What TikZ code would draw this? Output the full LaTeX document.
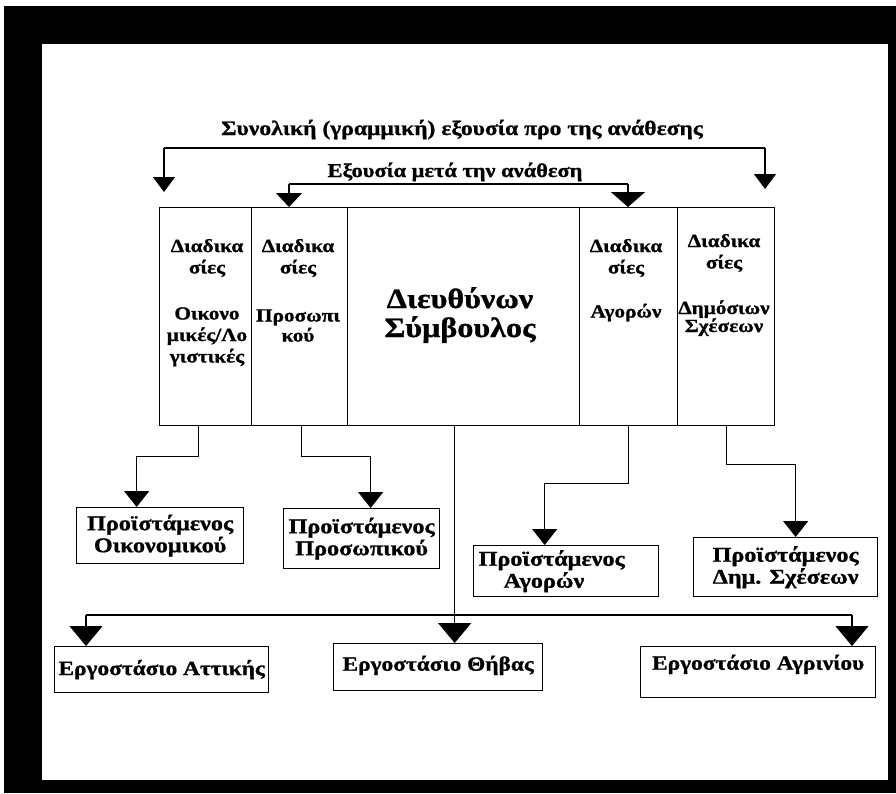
\documentclass[tikz,border=0pt]{standalone}
\usepackage{fontspec}
\setmainfont{Liberation Serif}[FakeStretch=1.15,BoldFeatures={FakeBold=1.0}]
\usetikzlibrary{arrows.meta}
\begin{document}
\begin{tikzpicture}[x=1pt,y=-1pt,
  conn/.style={line width=1.2pt,-{Triangle[width=25pt,length=16pt]}},
  bigconn/.style={line width=1.2pt,-{Triangle[width=33pt,length=20pt]}},
  plain/.style={line width=1.2pt},
  colbox/.style={draw,line width=1.3pt,minimum height=218pt,anchor=north west,inner sep=0pt},
  box/.style={draw,line width=1.3pt,anchor=north west,inner sep=0pt,align=center,
    font=\bfseries\fontsize{21}{22}\selectfont},
  fbox/.style={draw,line width=1.3pt,anchor=north west,inner sep=0pt,align=center,
    font=\bfseries\fontsize{20.3}{24}\selectfont},
  coltext/.style={anchor=base,inner sep=0pt,align=center,font=\bfseries\fontsize{18.5}{21.5}\selectfont},
  titletext/.style={anchor=base,inner sep=0pt,font=\bfseries\fontsize{20.5}{24}\selectfont}]
\useasboundingbox (0,0) rectangle (896,793);
% frame
\fill[black] (4,6) rectangle (896,793);
\fill[white] (42,44) rectangle (888,780);
% titles
\node[titletext] (t1) at (462,135) {Συνολική (γραμμική) εξουσία προ της ανάθεσης};
\node[titletext,font=\bfseries\fontsize{19.5}{22}\selectfont] (t2) at (455,177) {Εξουσία μετά την ανάθεση};
% columns
\node[colbox,minimum width=92pt] (c1) at (159,207) {};
\node[colbox,minimum width=96pt] (c2) at (251,207) {};
\node[colbox,minimum width=232pt] (c3) at (347,207) {};
\node[colbox,minimum width=98pt] (c4) at (579,207) {};
\node[colbox,minimum width=97pt] (c5) at (677,207) {};
% (base anchor = baseline of the last line)
\node[coltext] (x1) at (207,362.5) {Διαδικα\\σίες\\[24.5pt]Οικονο\\μικές/Λο\\γιστικές};
\node[coltext] (x2) at (298,341.5) {Διαδικα\\σίες\\[26.5pt]Προσωπι\\[-1.5pt]κού};
\node[coltext,font=\bfseries\fontsize{28}{29}\selectfont] (x3) at (460,337) {Διευθύνων\\Σύμβουλος};
\node[coltext] (x4) at (626,317.5) {Διαδικα\\σίες\\[22.5pt]Αγορών};
\node[coltext] (x5) at (724,332) {Διαδικα\\σίες\\[24pt]Δημόσιων\\[-3.5pt]Σχέσεων};
% boxes
\node[box,minimum width=167pt,minimum height=56pt] (po) at (76,507) {Προϊστάμενος\\Οικονομικού};
\node[box,minimum width=156pt,minimum height=60pt] (pp) at (283,508) {Προϊστάμενος\\Προσωπικού};
\node[box,minimum width=185pt,minimum height=51pt,align=left,text width=175pt,inner xsep=5pt] (pa) at (473,545) {Προϊστάμενος\\\hspace*{25pt}Αγορών};
\node[box,minimum width=184pt,minimum height=59pt] (pd) at (693,537) {Προϊστάμενος\\Δημ. Σχέσεων};
\node[fbox,minimum width=214pt,minimum height=46pt] (fa) at (54,646) {Εργοστάσιο Αττικής};
\node[fbox,minimum width=209pt,minimum height=47pt,text depth=8pt] (ft) at (333,643) {Εργοστάσιο Θήβας};
\node[fbox,minimum width=235pt,minimum height=51pt,text depth=20pt] (fg) at (640,646) {Εργοστάσιο Αγρινίου};
% top connectors
\coordinate (ol) at (164,148);
\coordinate (or) at (765,148);
\coordinate (olt) at (164,192);
\coordinate (ort) at (765,189);
\draw[plain] (ol) -- (or);
\draw[conn,-{Triangle[width=22pt,length=15pt]}] (ol) -- (olt);
\draw[conn,-{Triangle[width=22pt,length=15pt]}] (or) -- (ort);
\coordinate (il) at (289,184);
\coordinate (ir) at (628,184);
\draw[plain] (il) -- (ir);
\draw[conn,-{Triangle[width=26pt,length=14pt]}] (il) -- (il |- c2.north);
\draw[conn,-{Triangle[width=34pt,length=15pt]}] (ir) -- (ir |- c4.north);
% lower connectors
\draw[conn] ([xshift=-7pt]c1.south) -- ++(0,30) -| ([xshift=-23.5pt]po.north);
\draw[conn] ([xshift=2pt]c2.south) -- ++(0,30) -| ([xshift=9pt]pp.north);
\draw[bigconn] ([xshift=-9pt]c3.south) -- ([xshift=-9pt]c3.south |- ft.north);
\draw[conn] (c4.south) -- ++(0,57) -| ([xshift=-21.5pt]pa.north);
\draw[conn] (c5.south) -- ++(0,38) -| ([xshift=10pt]pd.north);
\coordinate (fl) at (86,615);
\coordinate (fr) at (852,615);
\draw[plain] (fl) -- (fr);
\draw[bigconn] (fl) -- (fl |- fa.north);
\draw[bigconn] (fr) -- (fr |- fg.north);
\end{tikzpicture}
\end{document}
